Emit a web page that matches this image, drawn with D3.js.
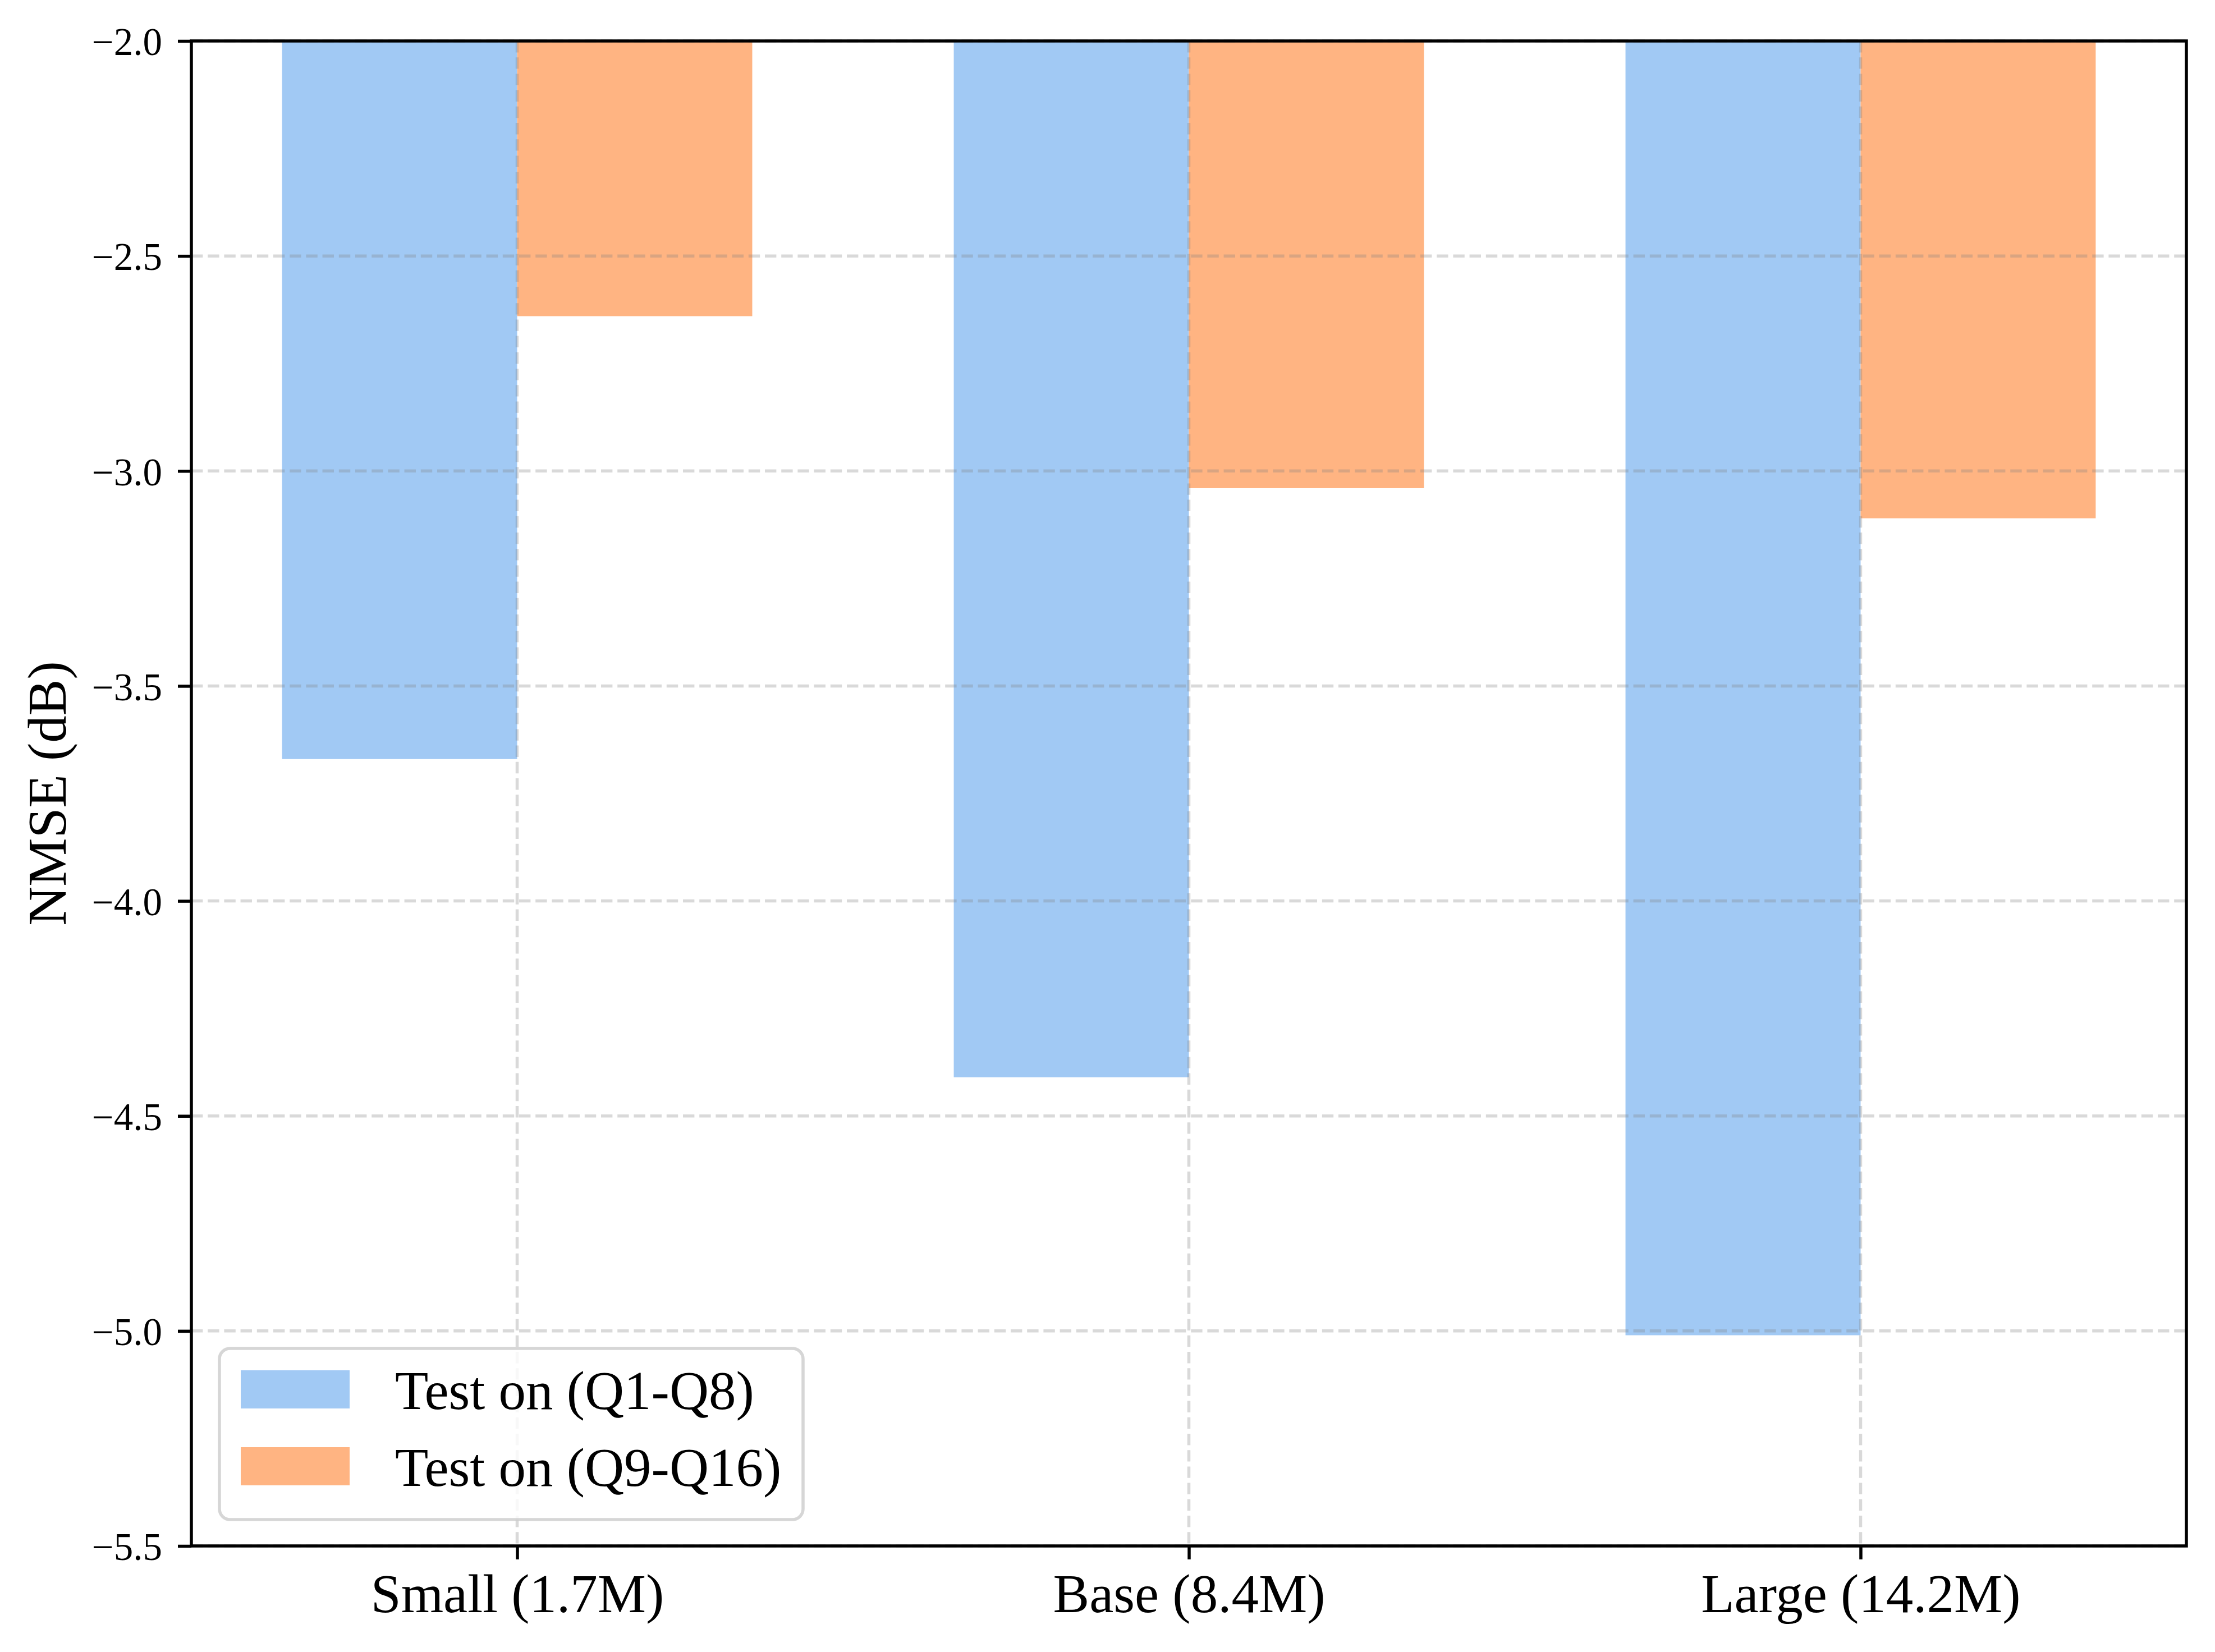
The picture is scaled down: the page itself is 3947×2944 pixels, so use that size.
<!DOCTYPE html>
<html>
<head>
<meta charset="utf-8">
<script src="https://cdn.jsdelivr.net/npm/d3@7"></script>
<style>
  html, body { margin: 0; padding: 0; background: #fff; }
  svg { display: block; }
  text { font-family: "Liberation Serif", "Times New Roman", serif; fill: #000; }
</style>
</head>
<body>
<div id="chart"></div>
<script>
// data
const categories = ["Small (1.7M)", "Base (8.4M)", "Large (14.2M)"];
const seriesNames = ["Test on (Q1-Q8)", "Test on (Q9-Q16)"];
const seriesColors = ["#a1c9f4", "#ffb482"];
const q1q8 = [-3.67, -4.41, -5.01];
const q9q16 = [-2.64, -3.04, -3.11];
const yTicks = [-2.0, -2.5, -3.0, -3.5, -4.0, -4.5, -5.0, -5.5];

const W = 3947, H = 2944;
const plot = {left: 341, right: 3896, top: 73, bottom: 2755};
const barW = 0.35;
const lw = 5.5;       // 0.8pt at 500 dpi
const tickLen = 24;
const bigFont = 97;   // 14pt
const tickFont = 69;  // 10pt

const svg = d3.select("#chart").append("svg")
  .attr("width", W).attr("height", H);

// matplotlib style 5% margins around the bar extent [-0.35, 2.35]
const x = d3.scaleLinear()
  .domain([-0.35 - 0.135, 2.35 + 0.135])
  .range([plot.left, plot.right]);

const y = d3.scaleLinear().domain([-5.5, -2]).range([plot.bottom, plot.top]);

const series = [q1q8, q9q16];
const offsets = [-barW / 2, barW / 2];

// bars hang from the top of the axes (ylim top = -2)
const gBars = svg.append("g");
series.forEach((vals, s) => {
  gBars.selectAll(null).data(vals).enter().append("rect")
    .attr("x", (d, i) => x(i + offsets[s] - barW / 2))
    .attr("width", x(barW) - x(0))
    .attr("y", y(-2))
    .attr("height", d => y(d) - y(-2))
    .attr("fill", seriesColors[s]);
});

// grid on top of bars, grey with alpha
const gGrid = svg.append("g")
  .attr("stroke", "gray").attr("stroke-opacity", 0.3)
  .attr("stroke-width", lw).attr("stroke-dasharray", "20.4,8.8");
gGrid.selectAll(null).data(yTicks).enter().append("line")
  .attr("x1", plot.left).attr("x2", plot.right)
  .attr("y1", d => y(d)).attr("y2", d => y(d));
gGrid.selectAll(null).data(categories).enter().append("line")
  .attr("x1", (d, i) => x(i)).attr("x2", (d, i) => x(i))
  .attr("y1", plot.top).attr("y2", plot.bottom);

// axes
const yAxis = d3.axisLeft(y).tickValues(yTicks).tickFormat(d3.format(".1f"))
  .tickSize(tickLen).tickPadding(28);
const gy = svg.append("g").attr("transform", `translate(${plot.left},0)`).call(yAxis);
gy.select(".domain").remove();
gy.selectAll(".tick line").attr("stroke", "#000").attr("stroke-width", lw);
gy.selectAll(".tick text").attr("font-size", tickFont).attr("dy", "0.36em");

const xAxis = d3.axisBottom(x).tickValues([0, 1, 2]).tickFormat(i => categories[i])
  .tickSize(tickLen).tickPadding(0);
const gx = svg.append("g").attr("transform", `translate(0,${plot.bottom})`).call(xAxis);
gx.select(".domain").remove();
gx.selectAll(".tick line").attr("stroke", "#000").attr("stroke-width", lw);
gx.selectAll(".tick text").attr("font-size", bigFont).attr("dy", null)
  .attr("y", 2873 - plot.bottom);

// frame
svg.append("rect")
  .attr("x", plot.left).attr("y", plot.top)
  .attr("width", plot.right - plot.left).attr("height", plot.bottom - plot.top)
  .attr("fill", "none").attr("stroke", "#000").attr("stroke-width", lw);

// y label
svg.append("text")
  .attr("transform", `translate(117,${(plot.top + plot.bottom) / 2}) rotate(-90)`)
  .attr("text-anchor", "middle")
  .attr("font-size", bigFont)
  .text("NMSE (dB)");

// legend, lower left
const leg = svg.append("g");
leg.append("rect")
  .attr("x", 391).attr("y", 2403).attr("width", 1040).attr("height", 305)
  .attr("rx", 19).attr("ry", 19)
  .attr("fill", "#fff").attr("fill-opacity", 0.8)
  .attr("stroke", "#cccccc").attr("stroke-opacity", 0.8).attr("stroke-width", lw);
const rows = leg.selectAll(null).data(seriesNames).enter().append("g")
  .attr("transform", (d, i) => `translate(0,${i * 137})`);
rows.append("rect")
  .attr("x", 429).attr("y", 2442).attr("width", 194).attr("height", 68)
  .attr("fill", (d, i) => seriesColors[i]);
rows.append("text")
  .attr("x", 704).attr("y", 2511)
  .attr("font-size", bigFont)
  .text(d => d);
</script>
</body>
</html>
